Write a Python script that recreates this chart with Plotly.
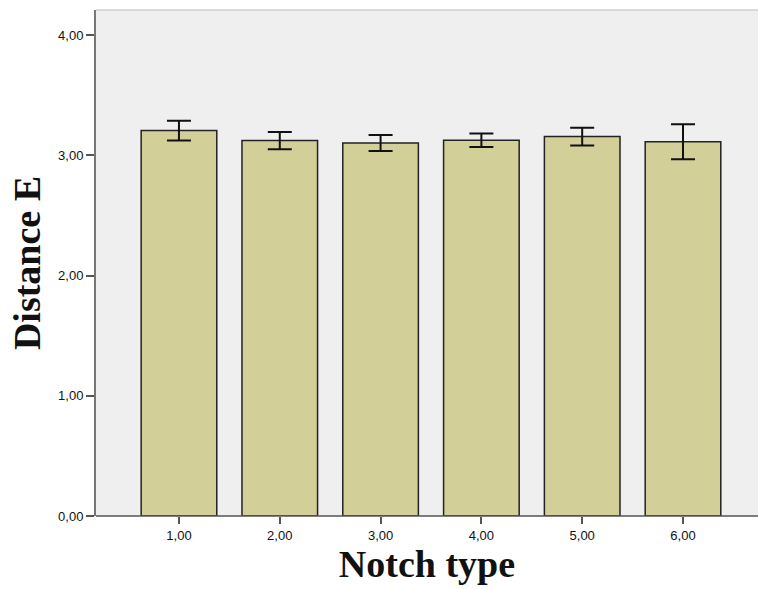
import plotly.graph_objects as go

categories = [1, 2, 3, 4, 5, 6]
means = [3.205, 3.122, 3.102, 3.125, 3.155, 3.112]
errors = [0.083, 0.072, 0.066, 0.056, 0.073, 0.145]

fig = go.Figure(go.Bar(
    x=categories, y=means, width=0.75,
    marker=dict(color="#d3cf98", line=dict(color="#222222", width=1.5)),
    error_y=dict(type="data", array=errors, visible=True, color="#111111", thickness=2, width=12),
))

fig.update_layout(
    width=758, height=589,
    margin=dict(l=96, r=0, t=10, b=73),
    paper_bgcolor="white", plot_bgcolor="#efefef",
    separators=",.",
    showlegend=False,
    xaxis=dict(
        range=[0.177, 6.744], tickvals=categories, tickformat=".2f",
        ticks="outside", ticklen=7, tickcolor="#555555", tickwidth=1.5,
        showgrid=False, zeroline=False, showline=False,
        tickfont=dict(family="Arial", size=13, color="#111111"),
        title=dict(text="<b>Notch type</b>", font=dict(family="Liberation Serif", size=38, color="#111111"), standoff=8),
    ),
    yaxis=dict(
        range=[0, 4.208], tickvals=[0, 1, 2, 3, 4], tickformat=".2f",
        ticks="outside", ticklen=8, tickcolor="#555555", tickwidth=1.5,
        showgrid=False, zeroline=False, showline=True, linecolor="#777777", linewidth=2,
        tickfont=dict(family="Arial", size=13, color="#111111"),
        title=dict(text="<b>Distance E</b>", font=dict(family="Liberation Serif", size=38, color="#111111"), standoff=6),
    ),
)
fig.add_shape(type="line", xref="paper", yref="paper", x0=0, x1=1, y0=0, y1=0,
              line=dict(color="#555555", width=1.5))
fig.add_shape(type="line", xref="paper", yref="paper", x0=0, x1=1, y0=1, y1=1,
              line=dict(color="#bbbbbb", width=1))

fig.write_html("out.html", config={"displayModeBar": False},
               post_script="document.body.style.margin='0';")
